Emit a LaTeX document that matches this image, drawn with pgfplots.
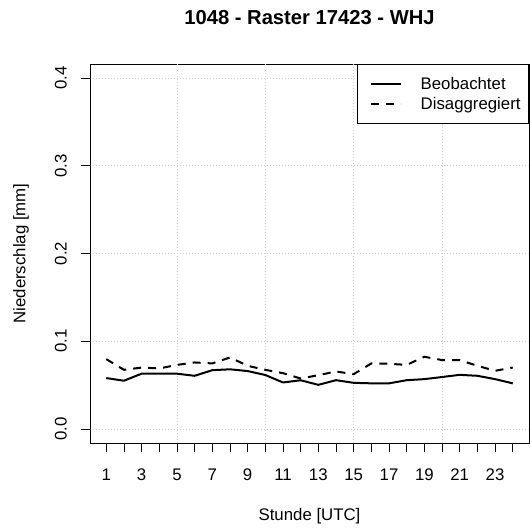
\documentclass[border=0pt]{standalone}
\usepackage{fontspec}
\setmainfont{Liberation Sans}
\usepackage{pgfplots}
\pgfplotsset{compat=1.18}
\definecolor{rgrid}{HTML}{D3D3D3}
\begin{document}
\begin{tikzpicture}
\useasboundingbox (0bp,0bp) rectangle (530bp,529bp);
\begin{axis}[
  at={(90bp,86bp)}, anchor=south west,
  width=439bp, height=379bp, scale only axis,
  xmin=0.08, xmax=24.92, ymin=-0.016, ymax=0.416,
  axis line style={black, line width=0.8bp},
  font=\fontsize{16.8bp}{20bp}\selectfont,
  /pgf/number format/assume math mode=true,
  tick align=outside, major tick length=9bp,
  every tick/.style={black, line width=0.8bp},
  xtick={1,...,24},
  xticklabels={1,,3,,5,,7,,9,,11,,13,,15,,17,,19,,21,,23,},
  ytick={0,0.1,0.2,0.3,0.4},
  yticklabels={0.0,0.1,0.2,0.3,0.4},
  xtick pos=bottom, ytick pos=left,
  xticklabel style={anchor=north, inner sep=0pt},
  yticklabel style={rotate=90, anchor=south, inner sep=0pt},
  xticklabel shift=17bp, yticklabel shift=14bp,
  ymajorgrids,
  grid style={rgrid, line width=0.8bp, dash pattern=on 1bp off 2bp},
  extra x ticks={5,10,15,20}, extra x tick labels={},
  extra x tick style={grid=major, major tick length=0pt},
  title={1048 - Raster 17423 - WHJ},
  title style={font=\bfseries\fontsize{20.2bp}{24bp}\selectfont, anchor=center, at={(axis description cs:0.5,1)}, yshift=40bp, inner sep=0pt},
  xlabel={Stunde [UTC]},
  xlabel style={anchor=center, at={(axis description cs:0.5,0)}, yshift=-73bp, inner sep=0pt},
  ylabel={Niederschlag [mm]},
  ylabel style={anchor=center, at={([xshift=-69bp]axis description cs:0,0.5)}, inner sep=0pt},
  legend style={at={(1,1)}, anchor=north east, draw=black, line width=0.8bp, fill=white,
    inner xsep=8bp, inner ysep=13bp, row sep=6bp, column sep=18.5bp, cells={anchor=west},
    nodes={inner sep=0pt},
    font=\fontsize{16.8bp}{20bp}\selectfont},
  legend image code/.code={\path (-5bp,0bp); \draw[#1] (0bp,0bp) -- (30bp,0bp);},
]
\addplot[black, line width=2bp] coordinates {
(1,0.058) (2,0.055) (3,0.063) (4,0.063) (5,0.063) (6,0.0606) (7,0.067) (8,0.068)
(9,0.066) (10,0.0615) (11,0.053) (12,0.0555) (13,0.0503) (14,0.0556) (15,0.0526) (16,0.052)
(17,0.052) (18,0.0556) (19,0.0568) (20,0.0592) (21,0.0617) (22,0.0606) (23,0.0568) (24,0.052)};
\addlegendentry{Beobachtet}
\addplot[black, line width=2bp, dash pattern=on 8bp off 7bp] coordinates {
(1,0.0796) (2,0.0674) (3,0.070) (4,0.069) (5,0.073) (6,0.0758) (7,0.0747) (8,0.0815)
(9,0.072) (10,0.0674) (11,0.0636) (12,0.0575) (13,0.0613) (14,0.0655) (15,0.0625) (16,0.0747)
(17,0.0743) (18,0.073) (19,0.0823) (20,0.0785) (21,0.0785) (22,0.072) (23,0.0663) (24,0.070)};
\addlegendentry{Disaggregiert}
\end{axis}
\end{tikzpicture}
\end{document}
